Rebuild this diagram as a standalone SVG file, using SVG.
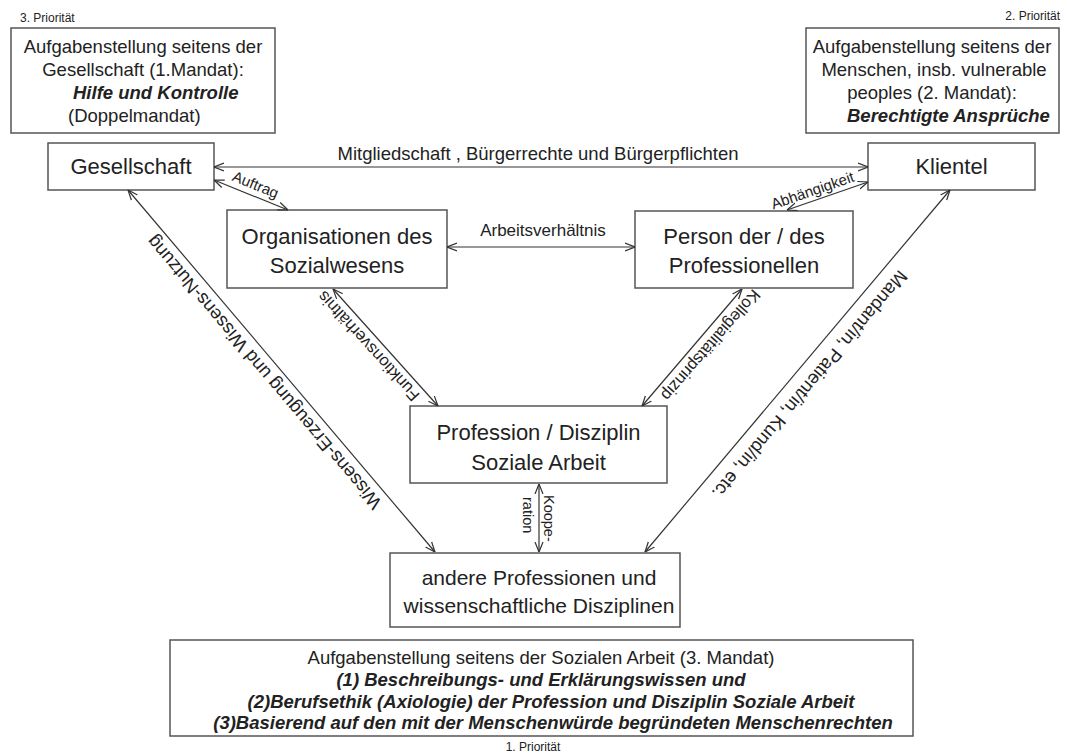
<svg xmlns="http://www.w3.org/2000/svg" width="1069" height="755" viewBox="0 0 1069 755">
<style>
text{font-family:"Liberation Sans",Arial,sans-serif;fill:#222}
.box{fill:#fff;stroke:#555;stroke-width:1.5}
.n{font-size:22px;text-anchor:middle}
.t{font-size:18.5px;text-anchor:middle}
.bi{font-weight:bold;font-style:italic}
.pr{font-size:12px}
.ln{stroke:#333;stroke-width:1.2;fill:none;marker-start:url(#ah);marker-end:url(#ah)}
.el{text-anchor:middle}
</style>
<defs>
<marker id="ah" viewBox="0 0 10 10" refX="10" refY="5" markerWidth="10" markerHeight="10" markerUnits="userSpaceOnUse" orient="auto-start-reverse">
<path d="M0,1 L10,5 L0,9" fill="none" stroke="#333" stroke-width="1.2"/>
</marker>
</defs>
<rect width="1069" height="755" fill="#fff"/>

<g id="mandat1">
<text class="pr" x="20" y="22">3. Priorität</text>
<rect class="box" x="11" y="28" width="264" height="105"/>
<text class="t" x="143" y="53">Aufgabenstellung seitens der</text>
<text class="t" x="143" y="76">Gesellschaft (1.Mandat):</text>
<text class="t bi" x="73" y="99" style="text-anchor:start">Hilfe und Kontrolle</text>
<text class="t" x="68" y="122" style="text-anchor:start">(Doppelmandat)</text>
</g>

<g id="mandat2">
<text class="pr" x="1060" y="20" style="text-anchor:end">2. Priorität</text>
<rect class="box" x="806" y="28" width="253" height="105"/>
<text class="t" x="932" y="53">Aufgabenstellung seitens der</text>
<text class="t" x="934" y="76">Menschen, insb. vulnerable</text>
<text class="t" x="932" y="99">peoples (2. Mandat):</text>
<text class="t bi" x="847" y="122" style="text-anchor:start">Berechtigte Ansprüche</text>
</g>

<g id="gesellschaft">
<rect class="box" x="48" y="143" width="166" height="47"/>
<text class="n" x="131" y="174">Gesellschaft</text>
</g>

<g id="klientel">
<rect class="box" x="868" y="143" width="167" height="47"/>
<text class="n" x="951.5" y="174">Klientel</text>
</g>

<g id="organisationen">
<rect class="box" x="227" y="210" width="220" height="78"/>
<text class="n" x="337" y="244">Organisationen des</text>
<text class="n" x="337" y="273">Sozialwesens</text>
</g>

<g id="person">
<rect class="box" x="635" y="211" width="218" height="77"/>
<text class="n" x="744" y="244">Person der / des</text>
<text class="n" x="744" y="273">Professionellen</text>
</g>

<g id="profession">
<rect class="box" x="410" y="406" width="257" height="77"/>
<text class="n" x="538.5" y="440">Profession / Disziplin</text>
<text class="n" x="538.5" y="470">Soziale Arbeit</text>
</g>

<g id="andere">
<rect class="box" x="390" y="553" width="290" height="74"/>
<text class="n" x="539" y="585" style="font-size:21px">andere Professionen und</text>
<text class="n" x="539" y="613" style="font-size:21px">wissenschaftliche Disziplinen</text>
</g>

<g id="mandat3">
<rect class="box" x="170" y="640" width="743" height="96"/>
<text class="t" x="541" y="664">Aufgabenstellung seitens der Sozialen Arbeit (3. Mandat)</text>
<text class="t bi" x="541" y="686">(1) Beschreibungs- und Erklärungswissen und</text>
<text class="t bi" x="551" y="708">(2)Berufsethik (Axiologie) der Profession und Disziplin Soziale Arbeit</text>
<text class="t bi" x="553" y="729">(3)Basierend auf den mit der Menschenwürde begründeten Menschenrechten</text>
<text class="pr" x="533" y="751" style="text-anchor:middle">1. Priorität</text>
</g>

<g id="connectors">
<line class="ln" x1="214" y1="167" x2="868" y2="167"/>
<text class="el" x="538" y="160" style="font-size:18.5px">Mitgliedschaft , Bürgerrechte und Bürgerpflichten</text>

<line class="ln" x1="214" y1="180" x2="288" y2="210"/>
<text class="el" transform="translate(253.7,189.5) rotate(22.3)" style="font-size:15px">Auftrag</text>

<line class="ln" x1="447" y1="247" x2="635" y2="247"/>
<text class="el" x="543" y="236" style="font-size:17px">Arbeitsverhältnis</text>

<line class="ln" x1="787" y1="210" x2="868" y2="182"/>
<text class="el" transform="translate(814.3,195.3) rotate(-19)" style="font-size:15px">Abhängigkeit</text>

<line class="ln" x1="333" y1="289" x2="438" y2="406"/>
<text class="el" transform="translate(372.6,342.3) rotate(227.6)" style="font-size:16.5px">Funktionsverhältnis</text>

<line class="ln" x1="742" y1="289" x2="642" y2="406"/>
<text class="el" transform="translate(706.6,341.5) rotate(131)" style="font-size:16.5px">Kollegialitätsprinzip</text>

<line class="ln" x1="128" y1="190" x2="435" y2="552"/>
<text class="el" transform="translate(268.7,368.3) rotate(229.7)" style="font-size:18.5px">Wissens-Erzeugung und Wissens-Nutzung</text>

<line class="ln" x1="950" y1="190" x2="645" y2="552"/>
<text class="el" transform="translate(805,380.8) rotate(130.1)" style="font-size:18.5px">Mandant/in, Patient/in, Kund/in, etc.</text>

<line class="ln" x1="539" y1="484" x2="539" y2="552"/>
<text transform="translate(544,495) rotate(90)" style="font-size:14.5px">Koope-</text>
<text transform="translate(523,497) rotate(90)" style="font-size:14.5px">ration</text>
</g>
</svg>
